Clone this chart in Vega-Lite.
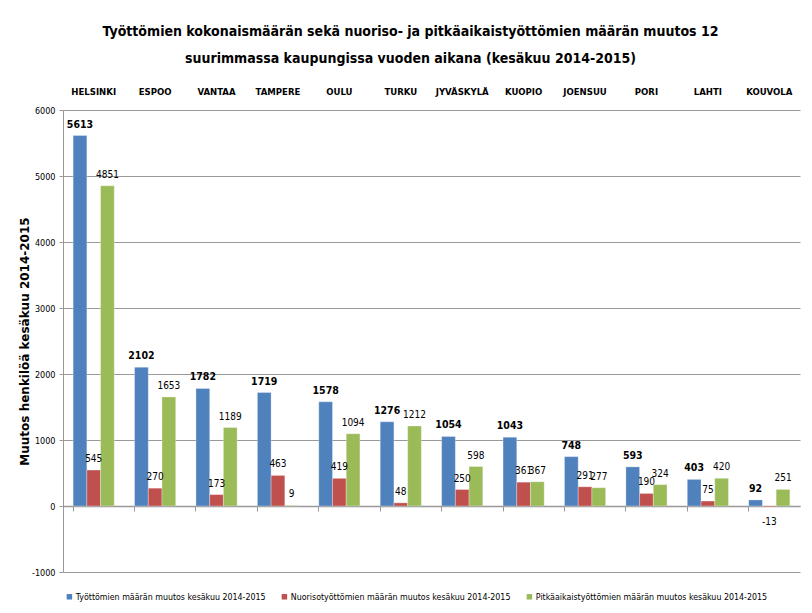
{
  "$schema": "https://vega.github.io/schema/vega-lite/v6.json",
  "width": 737,
  "height": 462,
  "autosize": "none",
  "padding": {"left": 63, "top": 110, "right": 12, "bottom": 41},
  "background": "white",
  "config": {
    "font": "Liberation Sans Narrow, DejaVu Sans Condensed, sans-serif",
    "view": {"stroke": null}
  },
  "title": {
    "text": ["Työttömien kokonaismäärän sekä nuoriso- ja pitkäaikaistyöttömien määrän muutos 12", "suurimmassa kaupungissa vuoden aikana (kesäkuu 2014-2015)"],
    "font": "Liberation Sans Narrow, DejaVu Sans Condensed, sans-serif",
    "fontSize": 14,
    "fontWeight": "bold",
    "color": "#000000",
    "lineHeight": 27,
    "anchor": "middle",
    "frame": "group",
    "dx": -21,
    "offset": 20
  },
  "datasets": {
    "d": [
      {"city": "HELSINKI", "series": "Työttömien määrän muutos kesäkuu 2014-2015", "value": 5613},
      {"city": "ESPOO", "series": "Työttömien määrän muutos kesäkuu 2014-2015", "value": 2102},
      {"city": "VANTAA", "series": "Työttömien määrän muutos kesäkuu 2014-2015", "value": 1782},
      {"city": "TAMPERE", "series": "Työttömien määrän muutos kesäkuu 2014-2015", "value": 1719},
      {"city": "OULU", "series": "Työttömien määrän muutos kesäkuu 2014-2015", "value": 1578},
      {"city": "TURKU", "series": "Työttömien määrän muutos kesäkuu 2014-2015", "value": 1276},
      {"city": "JYVÄSKYLÄ", "series": "Työttömien määrän muutos kesäkuu 2014-2015", "value": 1054},
      {"city": "KUOPIO", "series": "Työttömien määrän muutos kesäkuu 2014-2015", "value": 1043},
      {"city": "JOENSUU", "series": "Työttömien määrän muutos kesäkuu 2014-2015", "value": 748},
      {"city": "PORI", "series": "Työttömien määrän muutos kesäkuu 2014-2015", "value": 593},
      {"city": "LAHTI", "series": "Työttömien määrän muutos kesäkuu 2014-2015", "value": 403},
      {"city": "KOUVOLA", "series": "Työttömien määrän muutos kesäkuu 2014-2015", "value": 92},
      {"city": "HELSINKI", "series": "Nuorisotyöttömien määrän muutos kesäkuu 2014-2015", "value": 545},
      {"city": "ESPOO", "series": "Nuorisotyöttömien määrän muutos kesäkuu 2014-2015", "value": 270},
      {"city": "VANTAA", "series": "Nuorisotyöttömien määrän muutos kesäkuu 2014-2015", "value": 173},
      {"city": "TAMPERE", "series": "Nuorisotyöttömien määrän muutos kesäkuu 2014-2015", "value": 463},
      {"city": "OULU", "series": "Nuorisotyöttömien määrän muutos kesäkuu 2014-2015", "value": 419},
      {"city": "TURKU", "series": "Nuorisotyöttömien määrän muutos kesäkuu 2014-2015", "value": 48},
      {"city": "JYVÄSKYLÄ", "series": "Nuorisotyöttömien määrän muutos kesäkuu 2014-2015", "value": 250},
      {"city": "KUOPIO", "series": "Nuorisotyöttömien määrän muutos kesäkuu 2014-2015", "value": 361},
      {"city": "JOENSUU", "series": "Nuorisotyöttömien määrän muutos kesäkuu 2014-2015", "value": 291},
      {"city": "PORI", "series": "Nuorisotyöttömien määrän muutos kesäkuu 2014-2015", "value": 190},
      {"city": "LAHTI", "series": "Nuorisotyöttömien määrän muutos kesäkuu 2014-2015", "value": 75},
      {"city": "KOUVOLA", "series": "Nuorisotyöttömien määrän muutos kesäkuu 2014-2015", "value": -13},
      {"city": "HELSINKI", "series": "Pitkäaikaistyöttömien määrän muutos kesäkuu 2014-2015", "value": 4851},
      {"city": "ESPOO", "series": "Pitkäaikaistyöttömien määrän muutos kesäkuu 2014-2015", "value": 1653},
      {"city": "VANTAA", "series": "Pitkäaikaistyöttömien määrän muutos kesäkuu 2014-2015", "value": 1189},
      {"city": "TAMPERE", "series": "Pitkäaikaistyöttömien määrän muutos kesäkuu 2014-2015", "value": 9},
      {"city": "OULU", "series": "Pitkäaikaistyöttömien määrän muutos kesäkuu 2014-2015", "value": 1094},
      {"city": "TURKU", "series": "Pitkäaikaistyöttömien määrän muutos kesäkuu 2014-2015", "value": 1212},
      {"city": "JYVÄSKYLÄ", "series": "Pitkäaikaistyöttömien määrän muutos kesäkuu 2014-2015", "value": 598},
      {"city": "KUOPIO", "series": "Pitkäaikaistyöttömien määrän muutos kesäkuu 2014-2015", "value": 367},
      {"city": "JOENSUU", "series": "Pitkäaikaistyöttömien määrän muutos kesäkuu 2014-2015", "value": 277},
      {"city": "PORI", "series": "Pitkäaikaistyöttömien määrän muutos kesäkuu 2014-2015", "value": 324},
      {"city": "LAHTI", "series": "Pitkäaikaistyöttömien määrän muutos kesäkuu 2014-2015", "value": 420},
      {"city": "KOUVOLA", "series": "Pitkäaikaistyöttömien määrän muutos kesäkuu 2014-2015", "value": 251}
    ]
  },
  "data": {"name": "d"},
  "encoding": {
    "x": {
      "field": "city",
      "type": "nominal",
      "sort": null,
      "axis": null,
      "scale": {"paddingInner": 0.33, "paddingOuter": 0.165}
    },
    "xOffset": {
      "field": "series",
      "type": "nominal",
      "sort": ["Työttömien määrän muutos kesäkuu 2014-2015", "Nuorisotyöttömien määrän muutos kesäkuu 2014-2015", "Pitkäaikaistyöttömien määrän muutos kesäkuu 2014-2015"],
      "scale": {"paddingInner": 0, "paddingOuter": 0}
    },
    "y": {
      "field": "value",
      "type": "quantitative",
      "scale": {"domain": [-1000, 6000], "nice": false, "zero": false}
    }
  },
  "layer": [
    {
      "mark": {"type": "bar", "stroke": "white", "strokeWidth": 0.5, "strokeOpacity": 0.6},
      "encoding": {
        "x": {
          "field": "city",
          "type": "nominal",
          "sort": null,
          "axis": {
            "orient": "top",
            "title": null,
            "domain": false,
            "ticks": false,
            "labelAngle": 0,
            "labelPadding": 14,
            "labelFontSize": 9.5,
            "labelFontWeight": "bold",
            "labelColor": "#000000",
            "labelFont": "Liberation Sans Narrow, DejaVu Sans Condensed, sans-serif"
          }
        },
        "y": {
          "field": "value",
          "type": "quantitative",
          "axis": {
            "title": "Muutos henkilöä kesäkuu 2014-2015",
            "titleFont": "DejaVu Sans, Verdana, sans-serif",
            "titleFontSize": 12,
            "titleFontWeight": "bold",
            "titleColor": "#000000",
            "titlePadding": 0,
            "values": [-1000, 0, 1000, 2000, 3000, 4000, 5000, 6000],
            "labelExpr": "'' + datum.value",
            "labelFontSize": 9,
            "labelColor": "#000000",
            "labelPadding": 4,
            "tickSize": 4,
            "tickColor": "#999999",
            "domainColor": "#999999",
            "gridColor": "#999999",
            "gridWidth": 1,
            "grid": true
          }
        },
        "color": {
          "field": "series",
          "type": "nominal",
          "scale": {
            "domain": ["Työttömien määrän muutos kesäkuu 2014-2015", "Nuorisotyöttömien määrän muutos kesäkuu 2014-2015", "Pitkäaikaistyöttömien määrän muutos kesäkuu 2014-2015"],
            "range": ["#4F81BD", "#C0504D", "#9BBB59"]
          },
          "legend": {
            "orient": "none",
            "legendX": 2,
            "legendY": 482,
            "direction": "horizontal",
            "title": null,
            "symbolType": "square",
            "symbolSize": 30,
            "symbolStrokeWidth": 0,
            "labelFontSize": 8.8,
            "labelColor": "#000000",
            "labelOffset": 2,
            "columnPadding": 14,
            "labelLimit": 300
          }
        }
      }
    },
    {
      "transform": [{"filter": "datum.series == 'Työttömien määrän muutos kesäkuu 2014-2015'"}],
      "mark": {"type": "text", "baseline": "bottom", "dy": -6, "fontSize": 10.5, "fontWeight": "bold", "color": "#000000"},
      "encoding": {
        "text": {"field": "value", "type": "nominal"},
        "x": {
          "field": "city",
          "type": "nominal",
          "sort": null,
          "axis": {
            "orient": "bottom",
            "offset": -66,
            "labels": false,
            "title": null,
            "bandPosition": 0,
            "tickSize": 5,
            "tickColor": "#999999",
            "domainColor": "#999999",
            "domainWidth": 1.5
          }
        }
      }
    },
    {
      "transform": [{"filter": "datum.series != 'Työttömien määrän muutos kesäkuu 2014-2015' && datum.value >= 0"}],
      "mark": {"type": "text", "baseline": "bottom", "dy": -6, "fontSize": 10, "color": "#000000"},
      "encoding": {
        "text": {"field": "value", "type": "nominal"}
      }
    },
    {
      "transform": [{"filter": "datum.value < 0"}],
      "mark": {"type": "text", "baseline": "top", "dy": 10, "fontSize": 10, "color": "#000000"},
      "encoding": {
        "text": {"field": "value", "type": "nominal"}
      }
    }
  ],
  "resolve": {"axis": {"x": "independent"}}
}
